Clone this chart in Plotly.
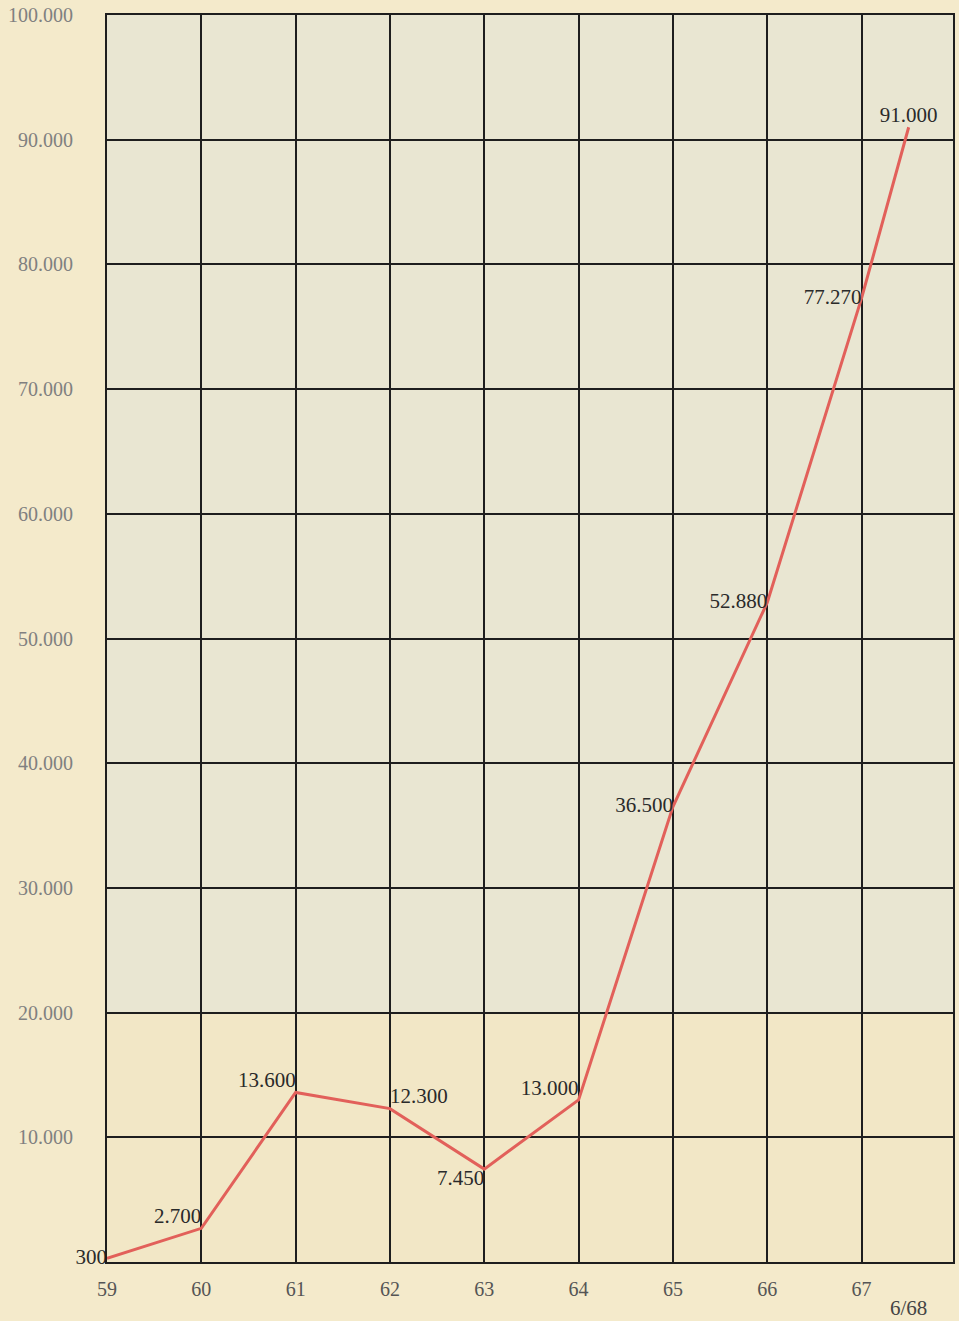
import plotly.graph_objects as go

years = [59, 60, 61, 62, 63, 64, 65, 66, 67, 67.5]
values = [300, 2700, 13600, 12300, 7450, 13000, 36500, 52880, 77270, 91000]
labels = ["300", "2.700", "13.600", "12.300", "7.450", "13.000", "36.500", "52.880", "77.270", "91.000"]
label_pos = ["middle left", "top left", "top left", "top right", "bottom left", "top left",
             "middle left", "middle left", "middle left", "top center"]

x_ticks = [59, 60, 61, 62, 63, 64, 65, 66, 67]
x_ticktext = ["59", "60", "61", "62", "63", "64", "65", "66", "67"]
y_ticks = [0, 10000, 20000, 30000, 40000, 50000, 60000, 70000, 80000, 90000, 100000]
y_ticktext = ["", "10.000", "20.000", "30.000", "40.000", "50.000", "60.000", "70.000", "80.000", "90.000", "100.000"]

serif = "Liberation Serif, DejaVu Serif, serif"

fig = go.Figure()
fig.add_trace(go.Scatter(
    x=years, y=values, mode="lines+text",
    line=dict(color="#e2605a", width=3),
    text=labels, textposition=label_pos,
    textfont=dict(family=serif, size=21, color="#2a2a2a"),
    cliponaxis=False, showlegend=False,
))

fig.add_shape(type="rect", xref="paper", yref="y", x0=0, x1=1, y0=0, y1=20000,
              fillcolor="#f2e7c6", line=dict(width=0), layer="below")

fig.add_annotation(x=67.5, y=0, xref="x", yref="y", text="6/68", showarrow=False,
                   yshift=-46, font=dict(family=serif, size=21, color="#444"))

fig.update_layout(
    width=959, height=1321,
    margin=dict(l=107, r=4, t=12, b=59),
    paper_bgcolor="#f4eacb",
    plot_bgcolor="#e9e6d2",
    xaxis=dict(range=[59, 67.97], tickvals=x_ticks, ticktext=x_ticktext,
               showgrid=True, gridcolor="#1e1e1e", gridwidth=1.5,
               showline=True, linecolor="#1e1e1e", linewidth=2, mirror=True,
               zeroline=False, ticks="", ticklabelstandoff=8,
               tickfont=dict(family=serif, size=20, color="#555")),
    yaxis=dict(range=[0, 100000], tickvals=y_ticks, ticktext=y_ticktext,
               showgrid=True, gridcolor="#1e1e1e", gridwidth=1.5,
               showline=True, linecolor="#1e1e1e", linewidth=2, mirror=True,
               zeroline=False, ticks="", ticklabelstandoff=28,
               tickfont=dict(family=serif, size=20, color="#808080")),
)

fig.write_html("out.html", config={"displayModeBar": False},
               post_script="document.body.style.margin='0';document.body.style.background='#f4eacb';")
